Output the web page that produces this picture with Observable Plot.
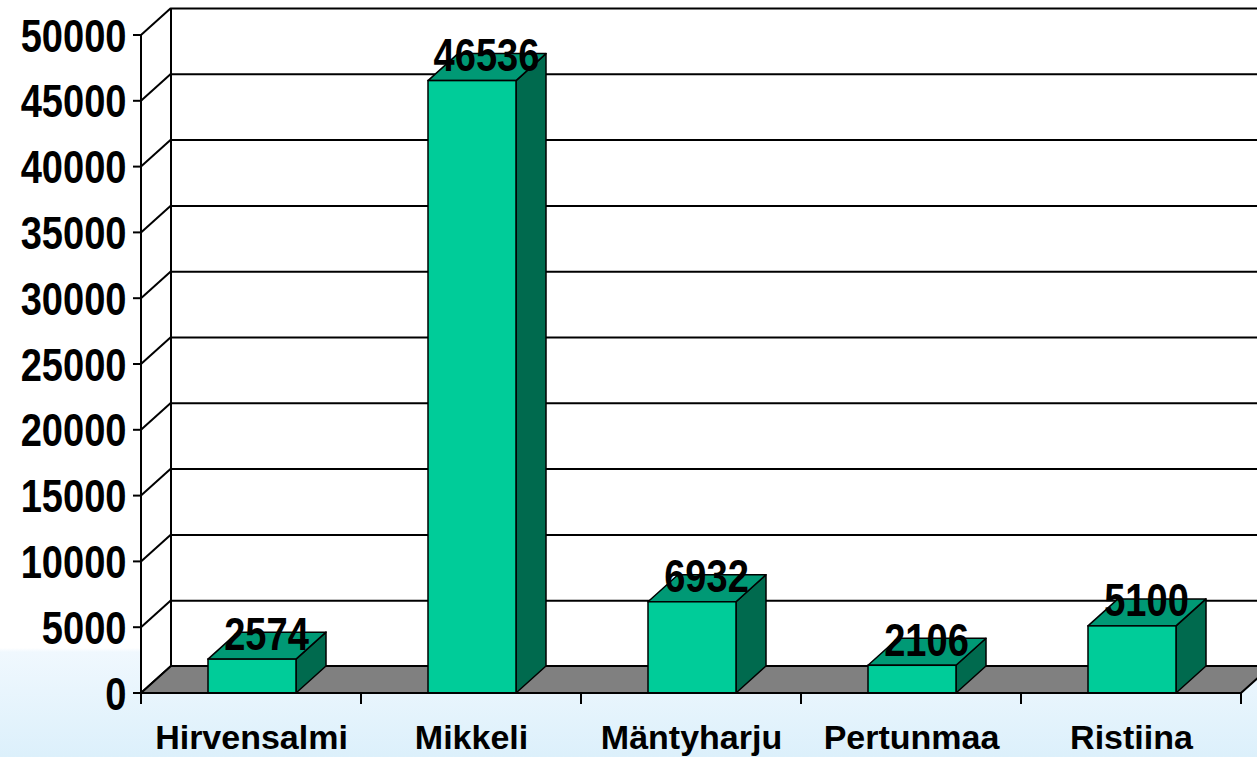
<!DOCTYPE html>
<html><head><meta charset="utf-8">
<script src="https://cdn.jsdelivr.net/npm/d3@7"></script>
<script src="https://cdn.jsdelivr.net/npm/@observablehq/plot@0.6"></script>
<style>
html,body{margin:0;padding:0;overflow:hidden;}
body{width:1257px;height:757px;background:linear-gradient(to bottom,#ffffff 0px,#ffffff 648px,#f0f8fe 652px,#dcf0fb 757px);}
#chart svg{display:block;}
</style></head><body><div id="chart"></div>
<script>
const categories = ["Hirvensalmi", "Mikkeli", "Mäntyharju", "Pertunmaa", "Ristiina"];
const values = [2574, 46536, 6932, 2106, 5100];
const yTicks = [0, 5000, 10000, 15000, 20000, 25000, 30000, 35000, 40000, 45000, 50000];

const data = categories.map((c, i) => ({category: c, value: values[i]}));

const DX = 30, DY = -27;           // 3D depth offset (pixels)
const INSET_L = 67, INSET_R = 65;  // bar insets within band
const NARROW_SCALE = 0.81;         // horizontal squeeze to mimic a narrow typeface
const C = {front: "#00CC99", top: "#009975", side: "#006A4E", floor: "#808080"};
const FONT = "'Liberation Sans', Arial, sans-serif";

function poly(g, pts, fill, stroke, sw) {
  g.append("path")
    .attr("d", "M" + pts.map(p => p.join(",")).join("L") + "Z")
    .attr("fill", fill)
    .attr("stroke", stroke || "none")
    .attr("stroke-width", sw || 0)
    .attr("stroke-linejoin", "round");
}

// back + side walls
const wallsMark = (index, scales, values, dims) => {
  const {y} = scales;
  const L = dims.marginLeft, R = dims.width - dims.marginRight;
  const B = y(0), T = y(yTicks[yTicks.length - 1]);
  const g = d3.create("svg:g");
  poly(g, [[L, B], [L, T], [L + DX, T + DY], [L + DX, B + DY]], "white");
  poly(g, [[L + DX, T + DY], [R + DX + 40, T + DY], [R + DX + 40, B + DY], [L + DX, B + DY]], "white");
  return g.node();
};

// left wall lines, y ticks
const sideLinesMark = (index, scales, values, dims) => {
  const {y} = scales;
  const L = dims.marginLeft;
  const B = y(0), T = y(yTicks[yTicks.length - 1]);
  const g = d3.create("svg:g").attr("stroke", "black").attr("stroke-width", 2).attr("fill", "none");
  for (const v of yTicks) {
    const yy = y(v);
    g.append("line").attr("x1", L).attr("y1", yy).attr("x2", L + DX).attr("y2", yy + DY);
    g.append("line").attr("x1", L - 8).attr("y1", yy).attr("x2", L).attr("y2", yy);
  }
  g.append("line").attr("x1", L + DX).attr("y1", T + DY).attr("x2", L + DX).attr("y2", B + DY);
  return g.node();
};

// floor
const floorMark = (index, scales, values, dims) => {
  const {y} = scales;
  const L = dims.marginLeft, R = dims.width - dims.marginRight;
  const B = y(0);
  const g = d3.create("svg:g");
  poly(g, [[L, B], [R, B], [R + DX, B + DY], [L + DX, B + DY]], C.floor, "black", 2);
  return g.node();
};

// top and side faces of bars
const barSidesMark = (index, scales, values, dims) => {
  const {x, y} = scales;
  const B = y(0);
  const g = d3.create("svg:g");
  for (const d of data) {
    const xl = x(d.category) + INSET_L;
    const xr = x(d.category) + x.bandwidth() - INSET_R;
    const yv = y(d.value);
    poly(g, [[xr, B], [xr, yv], [xr + DX, yv + DY], [xr + DX, B + DY]], C.side, "black", 1.5);
    poly(g, [[xl, yv], [xr, yv], [xr + DX, yv + DY], [xl + DX, yv + DY]], C.top, "black", 1.5);
  }
  return g.node();
};

// front axis lines and category ticks
const axisLinesMark = (index, scales, values, dims) => {
  const {x, y} = scales;
  const L = dims.marginLeft, R = dims.width - dims.marginRight;
  const B = y(0), T = y(yTicks[yTicks.length - 1]);
  const g = d3.create("svg:g").attr("stroke", "black").attr("stroke-width", 2).attr("fill", "none");
  g.append("line").attr("x1", L).attr("y1", T).attr("x2", L).attr("y2", B + 10);
  g.append("line").attr("x1", L).attr("y1", B).attr("x2", R).attr("y2", B);
  const edges = categories.map(c => x(c)).concat([R]);
  for (const e of edges) g.append("line").attr("x1", e).attr("y1", B).attr("x2", e).attr("y2", B + 11);
  return g.node();
};

const chart = Plot.plot({
  width: 1257,
  height: 757,
  marginLeft: 141,
  marginRight: 16,
  marginTop: 35,
  marginBottom: 64,
  style: "background: transparent; overflow: hidden; color: black;",
  x: {type: "band", domain: categories, padding: 0, round: false, axis: null},
  y: {type: "linear", domain: [0, 50000], axis: null},
  marks: [
    wallsMark,
    Plot.ruleY(yTicks.slice(1), {dx: DX, dy: DY, stroke: "black", strokeWidth: 2}),
    sideLinesMark,
    floorMark,
    barSidesMark,
    Plot.barY(data, {x: "category", y: "value", fill: C.front, stroke: "black", strokeWidth: 1.5,
      insetLeft: INSET_L, insetRight: INSET_R}),
    axisLinesMark,
    Plot.text(yTicks, {y: d => d, text: d => String(d), frameAnchor: "left", dx: -15, dy: 1,
      textAnchor: "end", lineAnchor: "middle", fontSize: 47, fontWeight: "bold", fontFamily: FONT, fill: "black"}),
    Plot.text(categories, {x: d => d, text: d => d, frameAnchor: "bottom", dy: 55, lineAnchor: "bottom",
      fontSize: 34, fontWeight: "bold", fontFamily: FONT, fill: "black"}),
    Plot.text(data, {x: "category", y: "value", text: d => String(d.value), dx: 15, dy: -10,
      lineAnchor: "bottom", fontSize: 47, fontWeight: "bold", fontFamily: FONT, fill: "black"})
  ]
});
document.getElementById("chart").appendChild(chart);

// squeeze numeric labels horizontally (narrow typeface look), about each label's anchor point
const textGroups = chart.querySelectorAll('g[aria-label="text"]');
const squeeze = (group) => {
  if (!group) return;
  for (const t of group.querySelectorAll("text")) {
    const tr = t.getAttribute("transform");
    if (tr) {
      t.setAttribute("transform", `${tr} scale(${NARROW_SCALE},1)`);
    } else {
      const x = +t.getAttribute("x") || 0, y = +t.getAttribute("y") || 0;
      t.removeAttribute("x"); t.removeAttribute("y");
      t.setAttribute("transform", `translate(${x},${y}) scale(${NARROW_SCALE},1)`);
    }
  }
};
squeeze(textGroups[0]);
squeeze(textGroups[2]);
</script>
</body></html>
